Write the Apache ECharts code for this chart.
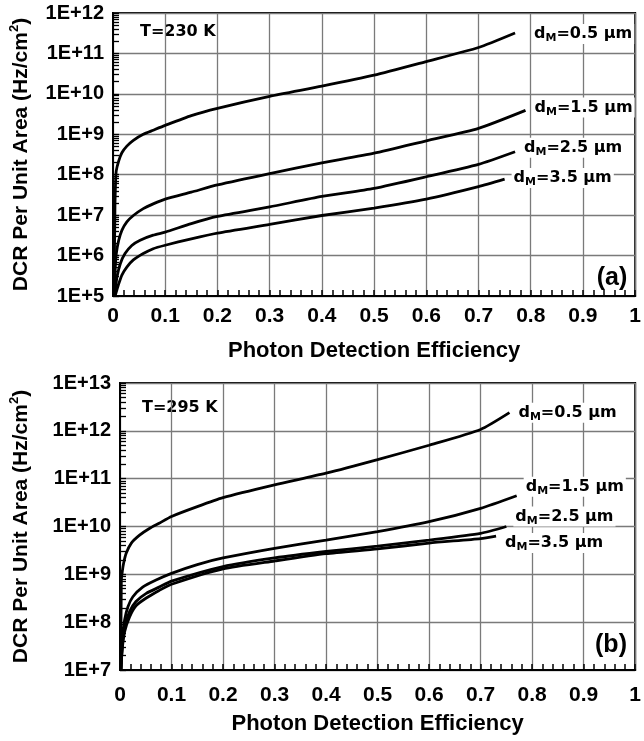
<!DOCTYPE html>
<html><head><meta charset="utf-8">
<script src="https://cdn.jsdelivr.net/npm/echarts@6/dist/echarts.min.js"></script>
<style>html,body{margin:0;padding:0;background:#fff}#c{width:644px;height:741px}</style>
</head><body><div id="c"></div>
<script>
// ---- data ----
const thickness = ['0.5', '1.5', '2.5', '3.5'];

// (a) T = 230 K
const xTop05 = [0.002,0.0038,0.005,0.0063,0.011,0.017,0.0265,0.039,0.058,0.077,0.1,0.15,0.2,0.3,0.4,0.5,0.6,0.7,0.77];
const yTop05 = [1e5,1.9e7,7.1e7,1.26e8,2.2e8,3.5e8,5.1e8,7.1e8,1.0e9,1.26e9,1.66e9,2.9e9,4.4e9,8.7e9,1.55e10,2.9e10,6.3e10,1.4e11,3.2e11];
const xTop15 = [0.0025,0.0044,0.0063,0.011,0.017,0.0265,0.039,0.058,0.077,0.1,0.15,0.2,0.3,0.4,0.5,0.6,0.7,0.79];
const yTop15 = [1e5,5.2e5,1.12e6,2.4e6,4.2e6,6.8e6,9.8e6,1.45e7,1.9e7,2.5e7,3.7e7,5.6e7,1.07e8,1.95e8,3.4e8,6.9e8,1.4e9,3.9e9];
const xTop25 = [0.003,0.0044,0.0076,0.014,0.023,0.036,0.052,0.077,0.1,0.15,0.2,0.3,0.4,0.5,0.6,0.7,0.77];
const yTop25 = [1e5,1.4e5,2.95e5,6.3e5,1.12e6,1.78e6,2.4e6,3.2e6,3.8e6,6.2e6,9.3e6,1.6e7,2.9e7,4.6e7,8.9e7,1.8e8,3.7e8];
const xTop35 = [0.004,0.0063,0.011,0.017,0.0265,0.039,0.058,0.077,0.1,0.15,0.2,0.3,0.4,0.5,0.6,0.7,0.75];
const yTop35 = [1e5,1.26e5,2.0e5,3.3e5,5.2e5,7.8e5,1.12e6,1.48e6,1.8e6,2.6e6,3.6e6,5.9e6,9.8e6,1.5e7,2.5e7,5.1e7,7.8e7];

// (b) T = 295 K
const xBot05 = [0.0015,0.0026,0.0045,0.007,0.012,0.022,0.038,0.057,0.076,0.1,0.15,0.2,0.3,0.4,0.5,0.6,0.7,0.756];
const yBot05 = [1e7,7.6e8,1.15e9,1.7e9,2.75e9,4.5e9,6.6e9,9.1e9,1.17e10,1.62e10,2.6e10,4.0e10,7.4e10,1.3e11,2.5e11,5.0e11,1.07e12,2.4e12];
const xBot15 = [0.0015,0.0026,0.0058,0.009,0.0154,0.025,0.044,0.07,0.1,0.15,0.2,0.3,0.4,0.5,0.6,0.7,0.77];
const yBot15 = [1e7,1.6e7,5.9e7,1.12e8,2.1e8,3.4e8,5.4e8,7.6e8,1.05e9,1.6e9,2.2e9,3.5e9,5.2e9,7.8e9,1.26e10,2.4e10,4.4e10];
const xBot25 = [0.002,0.004,0.009,0.0186,0.031,0.051,0.076,0.1,0.2,0.3,0.4,0.5,0.6,0.7,0.75];
const yBot25 = [1e7,2.8e7,8.1e7,1.66e8,2.7e8,4.0e8,5.4e8,7.2e8,1.45e9,2.2e9,3.0e9,3.9e9,5.2e9,7.2e9,1.0e10];
const xBot35 = [0.002,0.004,0.009,0.0186,0.031,0.051,0.076,0.1,0.2,0.3,0.4,0.5,0.6,0.7,0.73];
const yBot35 = [1e7,2.5e7,6.3e7,1.29e8,2.2e8,3.2e8,4.6e8,6.2e8,1.3e9,1.9e9,2.7e9,3.4e9,4.5e9,5.6e9,6.3e9];

const panelTitles = ['T=230 K', 'T=295 K'];
const panelTags = ['(a)', '(b)'];
const xName = 'Photon Detection Efficiency';
const yName = 'DCR Per Unit Area (Hz/cm{sup|2})';

// ---- chart ----
const AR = '"Liberation Sans", Arial, sans-serif';
const DV = '"DejaVu Sans", sans-serif';
const zip = (xs, ys) => xs.map((x, i) => [x, ys[i]]);

function xAxisCfg(gi, margin, gap) {
  return {
    type: 'value', gridIndex: gi, min: 0, max: 1, interval: 0.1,
    name: xName, nameLocation: 'middle', nameGap: gap,
    nameTextStyle: { fontFamily: AR, fontWeight: 'bold', fontSize: 22, color: '#000' },
    axisLine: { show: true, lineStyle: { color: '#000', width: 2 } },
    axisTick: { show: true, inside: true, length: 6, lineStyle: { color: '#000', width: 1.5 } },
    minorTick: { show: true, splitNumber: 5, length: 6, lineStyle: { color: '#000', width: 1.5 } },
    axisLabel: { fontFamily: AR, fontWeight: 'bold', fontSize: 21, color: '#000', margin: margin },
    splitLine: { show: true, lineStyle: { color: '#7a7a7a', width: 1.3 } }
  };
}
function yAxisCfg(gi, min, max, gap) {
  return {
    type: 'log', logBase: 10, gridIndex: gi, min: min, max: max,
    name: yName, nameLocation: 'middle', nameGap: gap,
    nameTextStyle: { fontFamily: AR, fontWeight: 'bold', fontSize: 21, color: '#000', lineHeight: 26,
      rich: { sup: { fontFamily: AR, fontWeight: 'bold', fontSize: 13, lineHeight: 13, verticalAlign: 'top', color: '#000' } } },
    axisLine: { show: true, lineStyle: { color: '#000', width: 2 } },
    axisTick: { show: true, inside: true, length: 6, lineStyle: { color: '#000', width: 1.3 } },
    minorTick: { show: true, splitNumber: 9, length: 6, lineStyle: { color: '#000', width: 1.3 } },
    axisLabel: { fontFamily: AR, fontWeight: 'bold', fontSize: 20, color: '#000', margin: 9,
      formatter: v => '1E+' + Math.round(Math.log10(v)) },
    splitLine: { show: true, lineStyle: { color: '#7a7a7a', width: 1.3 } }
  };
}
const richLab = {
  n: { fontFamily: DV, fontWeight: 'bold', fontSize: 16, lineHeight: 20, color: '#000' },
  s: { fontFamily: DV, fontWeight: 'bold', fontSize: 11, lineHeight: 11, verticalAlign: 'bottom', color: '#000' }
};
function lineSeries(gi, xs, ys, thick, off) {
  return {
    type: 'line', xAxisIndex: gi, yAxisIndex: gi, data: zip(xs, ys),
    showSymbol: false, smooth: 0.2, clip: true,
    lineStyle: { color: '#000', width: 2.8 },
    endLabel: { show: true, formatter: '{n|d}{s|M}{n|=' + thick + ' µm}', rich: richLab,
      backgroundColor: '#fff', padding: [0, 2, 0, 2], distance: 7, offset: off }
  };
}

const chart = echarts.init(document.getElementById('c'), null, { renderer: 'canvas' });
chart.setOption({
  animation: false,
  backgroundColor: '#fff',
  grid: [
    { left: 110, top: 13, width: 528, height: 283, show: true, borderColor: '#000', borderWidth: 2, backgroundColor: 'transparent' },
    { left: 117, top: 383, width: 520, height: 287, show: true, borderColor: '#000', borderWidth: 2, backgroundColor: 'transparent' }
  ],
  xAxis: [xAxisCfg(0, 10, 44), xAxisCfg(1, 15, 43)],
  yAxis: [yAxisCfg(0, 1e5, 1e12, 79), yAxisCfg(1, 1e7, 1e13, 86)],
  series: [
    lineSeries(0, xTop05, yTop05, thickness[0], [10, 1]),
    lineSeries(0, xTop15, yTop15, thickness[1], [0, -3]),
    lineSeries(0, xTop25, yTop25, thickness[2], [0, -4]),
    lineSeries(0, xTop35, yTop35, thickness[3], [0, -1]),
    lineSeries(1, xBot05, yBot05, thickness[0], [0, 0]),
    lineSeries(1, xBot15, yBot15, thickness[1], [0, -9]),
    lineSeries(1, xBot25, yBot25, thickness[2], [0, -10]),
    lineSeries(1, xBot35, yBot35, thickness[3], [0, 7])
  ],
  graphic: [
    { type: 'text', left: 140, top: 24, style: { text: panelTitles[0], font: 'bold 16px ' + DV, fill: '#000' } },
    { type: 'text', left: 142, top: 400, style: { text: panelTitles[1], font: 'bold 16px ' + DV, fill: '#000' } },
    { type: 'text', style: { x: 612, y: 278, text: panelTags[0], font: 'bold 25px ' + AR, fill: '#000', textAlign: 'center', textVerticalAlign: 'middle' } },
    { type: 'text', style: { x: 611, y: 645, text: panelTags[1], font: 'bold 25px ' + AR, fill: '#000', textAlign: 'center', textVerticalAlign: 'middle' } }
  ]
});
</script>
</body></html>
